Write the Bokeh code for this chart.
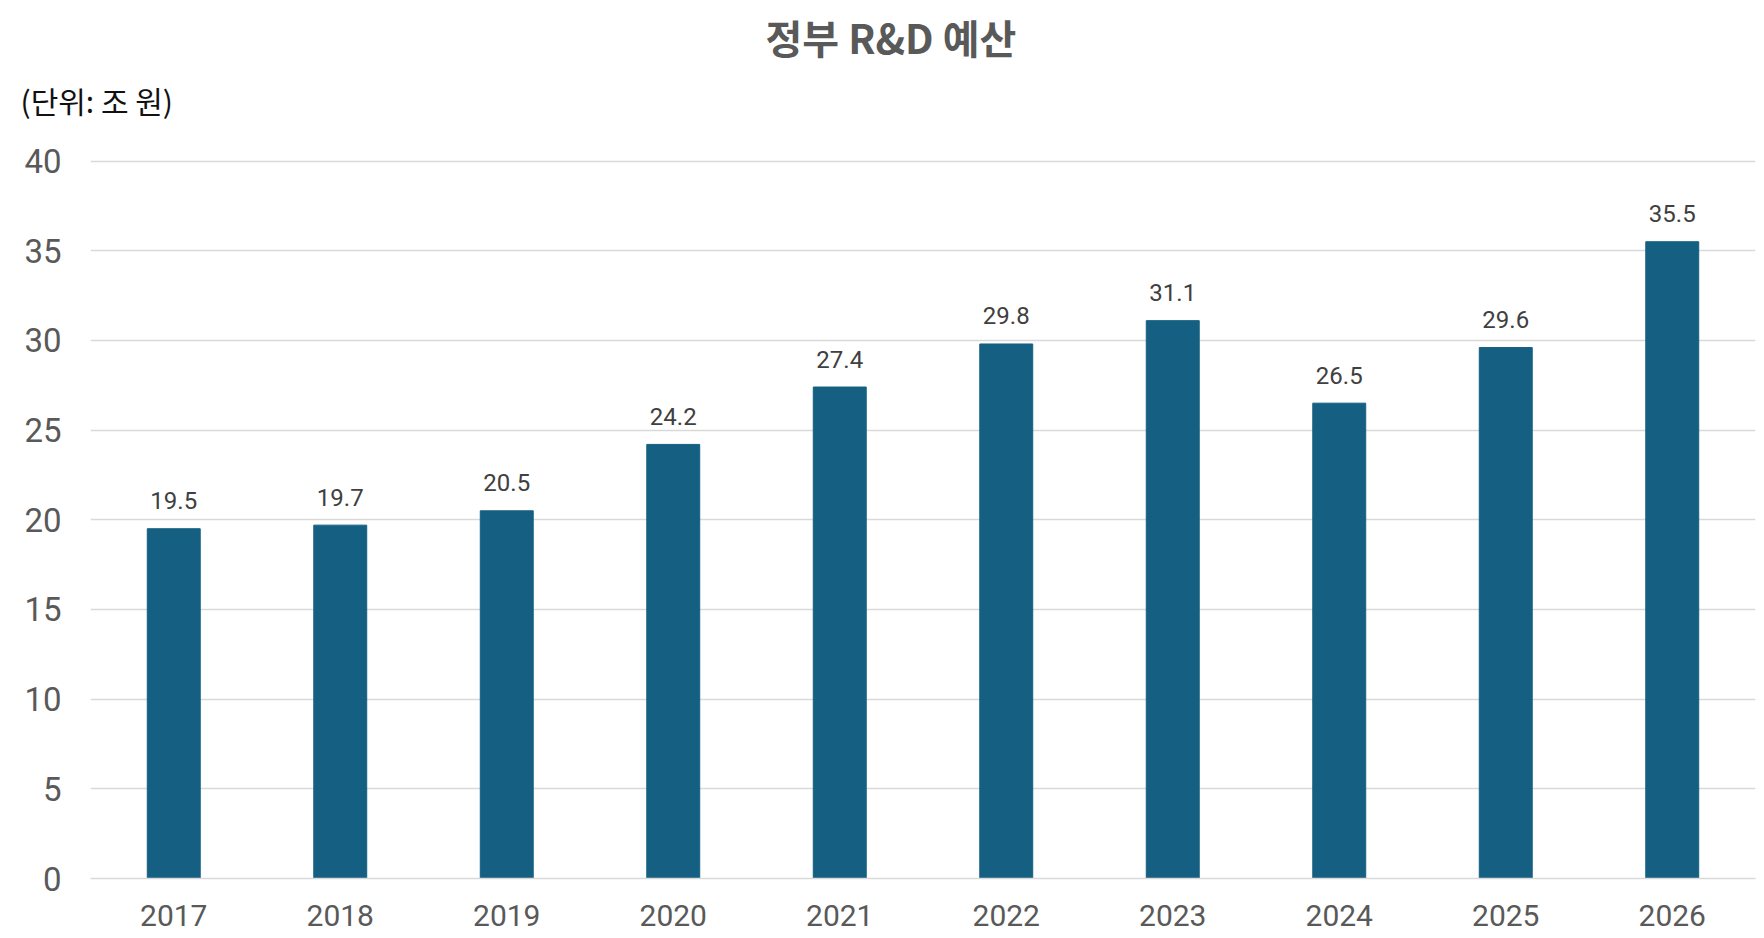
from bokeh.plotting import figure
from bokeh.models import ColumnDataSource, Range1d, FactorRange, LabelSet, Title, SingleIntervalTicker
from bokeh.core.properties import value
from bokeh.embed import file_html
from bokeh.resources import INLINE

years = ["2017", "2018", "2019", "2020", "2021", "2022", "2023", "2024", "2025", "2026"]
budget = [19.5, 19.7, 20.5, 24.2, 27.4, 29.8, 31.1, 26.5, 29.6, 35.5]
labels = [f"{v:.1f}" for v in budget]
title_text = "정부 R&D 예산"
unit_text = "(단위: 조 원)"

src = ColumnDataSource(dict(year=years, val=budget, lab=labels))

p = figure(width=1764, height=938, output_backend="svg", toolbar_location=None,
           x_range=FactorRange(factors=years, range_padding=0), y_range=Range1d(0, 40.14),
           min_border_left=90, min_border_right=9, min_border_top=158, min_border_bottom=60)
p.outline_line_color = None
p.background_fill_color = "white"
p.border_fill_color = "white"

p.vbar(x="year", top="val", width=0.318, source=src, color="#156082")

p.xgrid.grid_line_color = None
p.ygrid.grid_line_color = "#d9d9d9"
p.ygrid.grid_line_width = 1.6
p.yaxis.ticker = SingleIntervalTicker(interval=5)

for ax in (p.xaxis, p.yaxis):
    ax.major_tick_line_color = None
    ax.minor_tick_line_color = None
    ax.major_label_text_color = "#595959"
    ax.major_label_text_font = "Roboto"
p.yaxis.axis_line_color = None
p.yaxis.major_label_text_font_size = "33px"
p.yaxis.major_label_standoff = 23
p.xaxis.axis_line_color = "#d9d9d9"
p.xaxis.axis_line_width = 1.6
p.xaxis.major_label_text_font_size = "30px"
p.xaxis.major_label_standoff = 20

p.add_layout(LabelSet(x="year", y="val", text="lab", source=src, y_offset=28,
                      text_align="center", text_baseline="middle",
                      text_font=value("Roboto"), text_font_size="24px", text_color="#404040"))

sub = Title(text=unit_text, align="left", offset=-70, standoff=73,
            text_font="Noto Sans CJK KR", text_font_size="30px",
            text_font_style="normal", text_color="#111111")
main = Title(text=title_text, align="left", offset=675, standoff=-53,
             text_font="Noto Sans CJK KR", text_font_size="40px",
             text_font_style="bold", text_color="#595959")
p.add_layout(sub, "above")
p.add_layout(main, "above")

open("out.html", "w").write(file_html(p, INLINE))
